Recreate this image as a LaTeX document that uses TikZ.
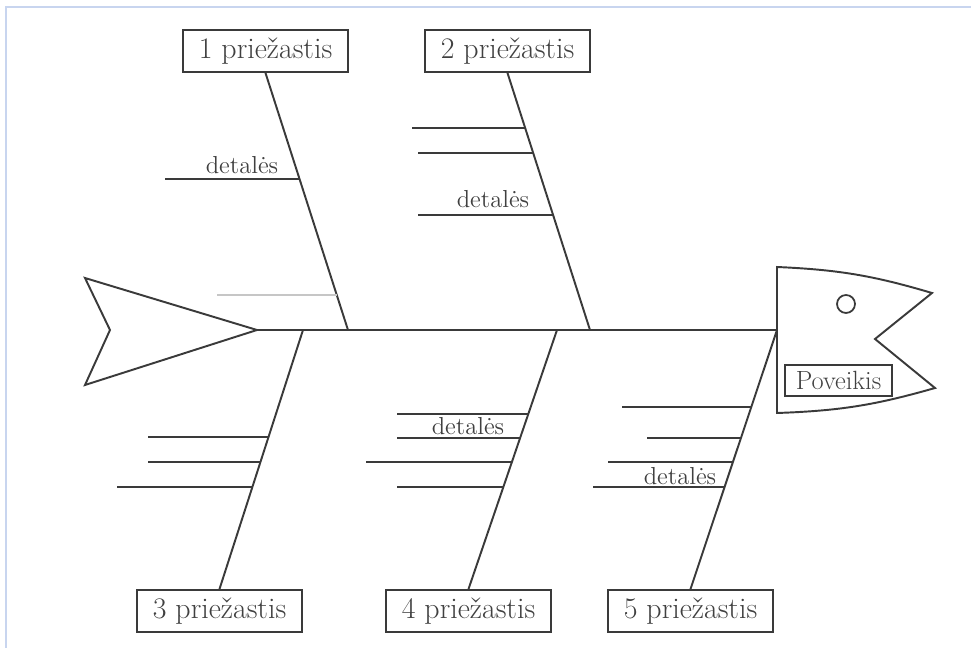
\documentclass[tikz,border=0pt]{standalone}
\usetikzlibrary{positioning, calc}
\definecolor{linegray}{HTML}{3A3A3A}
\definecolor{textgray}{HTML}{404040}
\definecolor{framefill}{HTML}{C8D5EF}

\begin{document}
\begin{tikzpicture}[x=0.02cm, y=-0.02cm,
    cause/.style={rectangle, draw=linegray, line width=1.1pt, inner sep=0pt,
                  minimum width=3.3cm, minimum height=0.84cm,
                  font=\fontsize{17}{20}\selectfont, text=textgray},
    effect/.style={rectangle, draw=linegray, line width=1pt, inner sep=0pt,
                   minimum width=2.14cm, minimum height=0.62cm,
                   font=\fontsize{15}{18}\selectfont, text=textgray},
    bone/.style={draw=linegray, line width=1.1pt},
    detail/.style={draw=linegray, line width=1.1pt},
    note/.style={font=\fontsize{14}{16}\selectfont, text=textgray, inner sep=0pt}
]
    \useasboundingbox (0,0) rectangle (971,648);

    % Frame
    \draw[framefill, line width=1.2pt] (6,648) -- (6,7) -- (971,7);

    % Tail
    \coordinate (tip) at (257,330);
    \draw[bone, line join=miter] (85,278) -- (tip) -- (85,385) -- (110,330) -- cycle;

    % Head
    \coordinate (mouth) at (777,330);
    \draw[bone, line join=miter] (777,267) to[bend left=7] (932,293) -- (875,339)
        -- (935,388) to[bend left=7] (777,413) -- cycle;
    \node[circle, draw=linegray, line width=1pt, minimum size=0.36cm, inner sep=0pt] (eye) at (846,304) {};
    \node[effect] (poveikis) at (838.5,380.5) {Poveikis};

    % Spine
    \draw[bone] (tip) -- (mouth);

    % Causes
    \node[cause] (p1) at (265.5,51) {1 priežastis};
    \node[cause] (p2) at (507.5,51) {2 priežastis};
    \node[cause] (p3) at (219.5,611) {3 priežastis};
    \node[cause] (p4) at (468.5,611) {4 priežastis};
    \node[cause] (p5) at (690.5,611) {5 priežastis};

    \coordinate (s1) at (348,330);
    \coordinate (s2) at (590,330);
    \coordinate (s3) at (303,330);
    \coordinate (s4) at (557,330);

    \draw[bone] (p1.south) -- (s1);
    \draw[bone] (p2.south) -- (s2);
    \draw[bone] (p3.north) -- (s3);
    \draw[bone] (p4.north) -- (s4);
    \draw[bone] (p5.north) -- (mouth);

    % Details
    \draw[detail] (165,179) -- (intersection of s1--p1.south and 0,179--10,179);
    \draw[draw=gray!45, line width=0.9pt] (217,295) -- (intersection of s1--p1.south and 0,295--10,295);
    \foreach \yy/\xx in {128/412, 153/418, 215/418}
        \draw[detail] (\xx,\yy) -- (intersection of s2--p2.south and 0,\yy--10,\yy);
    \foreach \yy/\xx in {437/148, 462/148, 487/117}
        \draw[detail] (\xx,\yy) -- (intersection of s3--p3.north and 0,\yy--10,\yy);
    \foreach \yy/\xx in {414/397, 438/397, 462/366, 487/397}
        \draw[detail] (\xx,\yy) -- (intersection of s4--p4.north and 0,\yy--10,\yy);
    \foreach \yy/\xx in {407/622, 438/647, 462/608, 487/593}
        \draw[detail] (\xx,\yy) -- (intersection of mouth--p5.north and 0,\yy--10,\yy);

    \node[note] (d1) at (242,165) {detalės};
    \node[note] (d2) at (493,199) {detalės};
    \node[note] (d4) at (468,426) {detalės};
    \node[note] (d5) at (680,476) {detalės};

\end{tikzpicture}
\end{document}
